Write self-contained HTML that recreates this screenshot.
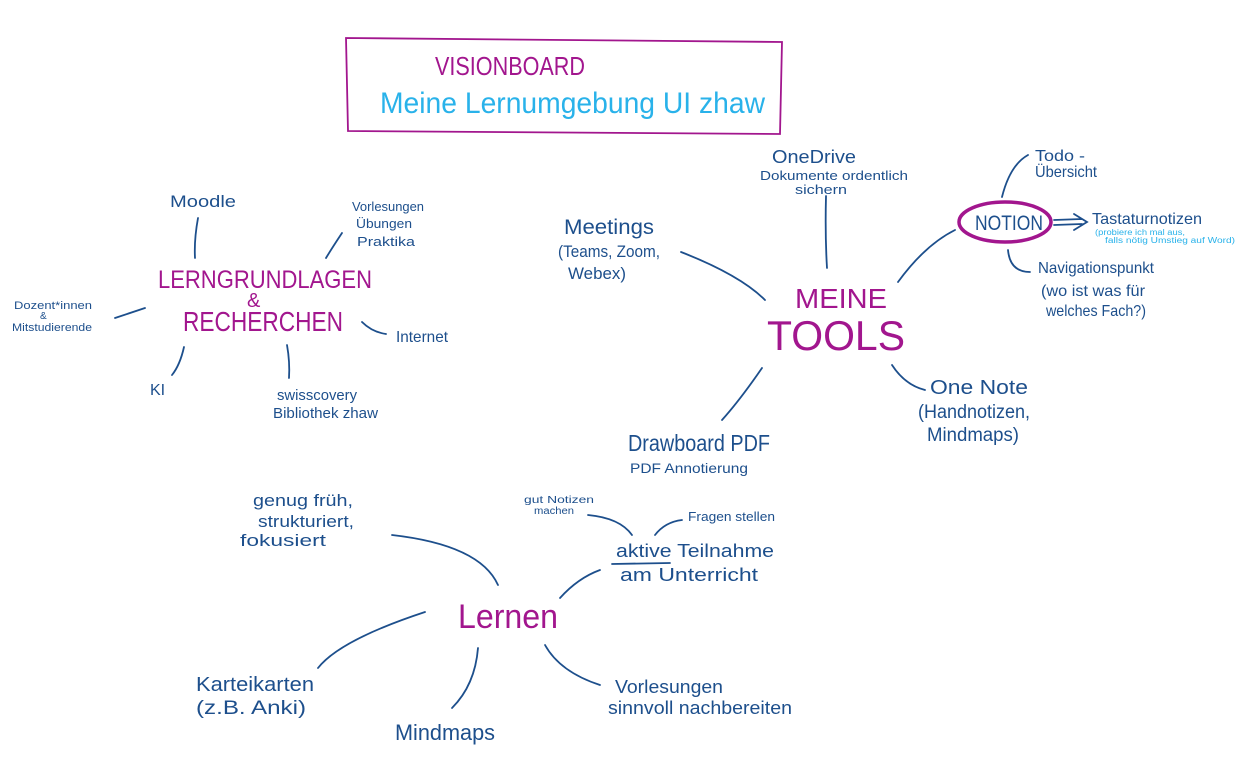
<!DOCTYPE html>
<html><head><meta charset="utf-8"><style>
html,body{margin:0;padding:0;background:#fff;}
svg{display:block;}
text{font-family:"Liberation Sans",sans-serif;}
.b{fill:#1d4f8c;}
.p{fill:#a2168e;}
.l{fill:#29b2ea;}
.ln{stroke:#1d4f8c;stroke-width:1.8;fill:none;stroke-linecap:round;}
</style></head><body>
<svg width="1253" height="758" viewBox="0 0 1253 758" xmlns="http://www.w3.org/2000/svg">
<rect x="0" y="0" width="1253" height="758" fill="#fff"/>
<path d="M346 38 L782 42 L780 134 L348 131 Z" fill="none" stroke="#a2168e" stroke-width="1.8"/>
<text x="435" y="75" class="p" font-size="26" textLength="150" lengthAdjust="spacingAndGlyphs">VISIONBOARD</text>
<text x="380" y="113" class="l" font-size="30" textLength="385" lengthAdjust="spacingAndGlyphs">Meine Lernumgebung UI zhaw</text>

<text x="170" y="207" class="b" font-size="17" textLength="66" lengthAdjust="spacingAndGlyphs">Moodle</text>
<path class="ln" d="M198 218 Q194 240 195 258"/>
<text x="352" y="211" class="b" font-size="13" textLength="72" lengthAdjust="spacingAndGlyphs">Vorlesungen</text>
<text x="356" y="228" class="b" font-size="13" textLength="56" lengthAdjust="spacingAndGlyphs">Übungen</text>
<text x="357" y="246" class="b" font-size="13" textLength="58" lengthAdjust="spacingAndGlyphs">Praktika</text>
<path class="ln" d="M342 233 Q332 248 326 258"/>
<text x="158" y="288" class="p" font-size="25" textLength="214" lengthAdjust="spacingAndGlyphs">LERNGRUNDLAGEN</text>
<text x="247" y="307" class="p" font-size="20">&amp;</text>
<text x="183" y="331" class="p" font-size="28" textLength="160" lengthAdjust="spacingAndGlyphs">RECHERCHEN</text>
<text x="14" y="309" class="b" font-size="11" textLength="78" lengthAdjust="spacingAndGlyphs">Dozent*innen</text>
<text x="40" y="319" class="b" font-size="10">&amp;</text>
<text x="12" y="331" class="b" font-size="11" textLength="80" lengthAdjust="spacingAndGlyphs">Mitstudierende</text>
<path class="ln" d="M115 318 L145 308"/>
<text x="396" y="342" class="b" font-size="16" textLength="52" lengthAdjust="spacingAndGlyphs">Internet</text>
<path class="ln" d="M362 322 Q372 332 386 334"/>
<text x="150" y="395" class="b" font-size="16">KI</text>
<path class="ln" d="M184 347 Q180 365 172 375"/>
<text x="277" y="400" class="b" font-size="15" textLength="80" lengthAdjust="spacingAndGlyphs">swisscovery</text>
<text x="273" y="418" class="b" font-size="15" textLength="105" lengthAdjust="spacingAndGlyphs">Bibliothek zhaw</text>
<path class="ln" d="M287 345 Q290 362 289 378"/>

<text x="564" y="234" class="b" font-size="21" textLength="90" lengthAdjust="spacingAndGlyphs">Meetings</text>
<text x="558" y="257" class="b" font-size="17" textLength="102" lengthAdjust="spacingAndGlyphs">(Teams, Zoom,</text>
<text x="568" y="279" class="b" font-size="17" textLength="58" lengthAdjust="spacingAndGlyphs">Webex)</text>
<path class="ln" d="M681 252 Q740 275 765 300"/>
<text x="772" y="163" class="b" font-size="18" textLength="84" lengthAdjust="spacingAndGlyphs">OneDrive</text>
<text x="760" y="180" class="b" font-size="13" textLength="148" lengthAdjust="spacingAndGlyphs">Dokumente ordentlich</text>
<text x="795" y="194" class="b" font-size="13" textLength="52" lengthAdjust="spacingAndGlyphs">sichern</text>
<path class="ln" d="M826 196 Q825 235 827 268"/>
<text x="795" y="308" class="p" font-size="28" textLength="92" lengthAdjust="spacingAndGlyphs">MEINE</text>
<text x="767" y="350" class="p" font-size="42" textLength="138" lengthAdjust="spacingAndGlyphs">TOOLS</text>
<path class="ln" d="M898 282 Q925 245 955 230"/>
<ellipse cx="1005" cy="222" rx="46" ry="20" fill="none" stroke="#a2168e" stroke-width="3.5"/>
<text x="975" y="230" class="b" font-size="21" textLength="68" lengthAdjust="spacingAndGlyphs">NOTION</text>
<path class="ln" d="M1002 197 Q1010 165 1028 155"/>
<text x="1035" y="161" class="b" font-size="16" textLength="50" lengthAdjust="spacingAndGlyphs">Todo -</text>
<text x="1035" y="177" class="b" font-size="16" textLength="62" lengthAdjust="spacingAndGlyphs">Übersicht</text>
<path class="ln" d="M1054 220 L1082 219 M1054 225 L1082 224 M1074 214 L1087 222 L1074 230"/>
<text x="1092" y="224" class="b" font-size="16" textLength="110" lengthAdjust="spacingAndGlyphs">Tastaturnotizen</text>
<text x="1095" y="235" class="l" font-size="8" textLength="90" lengthAdjust="spacingAndGlyphs">(probiere ich mal aus,</text>
<text x="1105" y="243" class="l" font-size="8" textLength="130" lengthAdjust="spacingAndGlyphs">falls nötig Umstieg auf Word)</text>
<path class="ln" d="M1008 250 Q1010 272 1030 272"/>
<text x="1038" y="273" class="b" font-size="16" textLength="116" lengthAdjust="spacingAndGlyphs">Navigationspunkt</text>
<text x="1041" y="296" class="b" font-size="16" textLength="104" lengthAdjust="spacingAndGlyphs">(wo ist was für</text>
<text x="1046" y="316" class="b" font-size="16" textLength="100" lengthAdjust="spacingAndGlyphs">welches Fach?)</text>
<path class="ln" d="M892 365 Q905 385 925 390"/>
<text x="930" y="394" class="b" font-size="20" textLength="98" lengthAdjust="spacingAndGlyphs">One Note</text>
<text x="918" y="418" class="b" font-size="19" textLength="112" lengthAdjust="spacingAndGlyphs">(Handnotizen,</text>
<text x="927" y="441" class="b" font-size="19" textLength="92" lengthAdjust="spacingAndGlyphs">Mindmaps)</text>
<path class="ln" d="M762 368 Q740 400 722 420"/>
<text x="628" y="451" class="b" font-size="23" textLength="142" lengthAdjust="spacingAndGlyphs">Drawboard PDF</text>
<text x="630" y="473" class="b" font-size="14" textLength="118" lengthAdjust="spacingAndGlyphs">PDF Annotierung</text>

<text x="458" y="628" class="p" font-size="34" textLength="100" lengthAdjust="spacingAndGlyphs">Lernen</text>
<text x="253" y="506" class="b" font-size="17" textLength="100" lengthAdjust="spacingAndGlyphs">genug früh,</text>
<text x="258" y="527" class="b" font-size="17" textLength="96" lengthAdjust="spacingAndGlyphs">strukturiert,</text>
<text x="240" y="546" class="b" font-size="17" textLength="86" lengthAdjust="spacingAndGlyphs">fokusiert</text>
<path class="ln" d="M392 535 Q480 545 498 585"/>
<text x="524" y="503" class="b" font-size="10" textLength="70" lengthAdjust="spacingAndGlyphs">gut Notizen</text>
<text x="534" y="514" class="b" font-size="10" textLength="40" lengthAdjust="spacingAndGlyphs">machen</text>
<path class="ln" d="M588 515 Q620 518 632 535"/>
<text x="688" y="521" class="b" font-size="13" textLength="87" lengthAdjust="spacingAndGlyphs">Fragen stellen</text>
<path class="ln" d="M655 535 Q665 522 682 520"/>
<text x="616" y="557" class="b" font-size="18" textLength="158" lengthAdjust="spacingAndGlyphs">aktive Teilnahme</text>
<path class="ln" d="M612 564 L670 563"/>
<text x="620" y="581" class="b" font-size="18" textLength="138" lengthAdjust="spacingAndGlyphs">am Unterricht</text>
<path class="ln" d="M560 598 Q578 578 600 570"/>
<path class="ln" d="M318 668 Q340 640 425 612"/>
<text x="196" y="691" class="b" font-size="20" textLength="118" lengthAdjust="spacingAndGlyphs">Karteikarten</text>
<text x="196" y="714" class="b" font-size="19" textLength="110" lengthAdjust="spacingAndGlyphs">(z.B. Anki)</text>
<path class="ln" d="M478 648 Q475 685 452 708"/>
<text x="395" y="740" class="b" font-size="22" textLength="100" lengthAdjust="spacingAndGlyphs">Mindmaps</text>
<path class="ln" d="M545 645 Q560 672 600 685"/>
<text x="615" y="693" class="b" font-size="18" textLength="108" lengthAdjust="spacingAndGlyphs">Vorlesungen</text>
<text x="608" y="714" class="b" font-size="18" textLength="184" lengthAdjust="spacingAndGlyphs">sinnvoll nachbereiten</text>
</svg>
</body></html>
